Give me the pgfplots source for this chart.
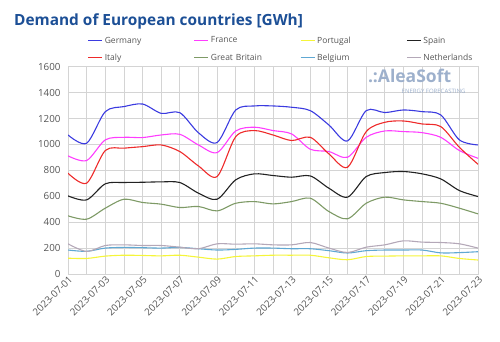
\documentclass[border=0pt]{standalone}
\usepackage{pgfplots}
\pgfplotsset{compat=1.18}
\usepackage{fontspec}
\setmainfont{Open Sans}
\definecolor{titleblue}{HTML}{1C4F96}
\definecolor{cGer}{HTML}{3B3BE0}
\definecolor{cFra}{HTML}{FF3DFF}
\definecolor{cPor}{HTML}{F5F53A}
\definecolor{cSpa}{HTML}{222222}
\definecolor{cIta}{HTML}{EE2A2A}
\definecolor{cGB}{HTML}{7E9A66}
\definecolor{cBel}{HTML}{5FA8D3}
\definecolor{cNet}{HTML}{B4A8B8}
\definecolor{gridc}{HTML}{D4D4D4}
\definecolor{tickc}{HTML}{555555}
\definecolor{wm}{HTML}{9DB0CC}
\begin{document}
\begin{tikzpicture}
\begin{axis}[
  name=ax,
  at={(68pt,68pt)}, anchor=south west,
  scale only axis, width=410pt, height=207.3pt,
  xmin=0, xmax=22, ymin=0, ymax=1600,
  xtick={0,2,...,22},
  minor xtick={1,3,...,21},
  xticklabels={2023-07-01,2023-07-03,2023-07-05,2023-07-07,2023-07-09,2023-07-11,2023-07-13,2023-07-15,2023-07-17,2023-07-19,2023-07-21,2023-07-23},
  ytick={0,200,...,1600},
  xticklabel style={rotate=45, anchor=north east, font=\fontsize{9.8}{11}\selectfont, text=tickc, inner sep=1pt},
  yticklabel style={font=\fontsize{9.8}{11}\selectfont, text=tickc, xshift=-4pt},
  /pgf/number format/assume math mode=true,
  /pgf/number format/1000 sep={},
  grid=both,
  major grid style={gridc, line width=0.7pt},
  minor grid style={gridc, line width=0.7pt},
  axis line style={gridc, line width=0.7pt},
  major tick length=0pt, minor tick length=0pt,
  every axis plot/.append style={line width=1.1pt, smooth, tension=0.5, no marks},
  legend columns=4,
  legend cell align=left,
  legend image code/.code={\draw[#1, line width=1.2pt] (0pt,0pt) -- (14pt,0pt);},
  legend style={at={(rel axis cs:0.04,1.16)}, anchor=north west, draw=none, fill=none,
    font=\fontsize{8.5}{9}\selectfont, text=tickc,
    nodes={text width=88pt, inner sep=1pt},
    /tikz/every odd column/.append style={column sep=1pt},
    row sep=7pt},
]
% Germany
\addplot[cGer] coordinates {(0,1073)(1,1009)(2,1253)(3,1292)(4,1312)(5,1240)(6,1245)(7,1090)(8,1015)(9,1266)(10,1297)(11,1297)(12,1287)(13,1261)(14,1150)(15,1027)(16,1261)(17,1246)(18,1266)(19,1253)(20,1228)(21,1035)(22,996)};
\addlegendentry{Germany}
% France
\addplot[cFra] coordinates {(0,912)(1,876)(2,1035)(3,1055)(4,1053)(5,1073)(6,1078)(7,996)(8,937)(9,1104)(10,1133)(11,1107)(12,1081)(13,963)(14,945)(15,901)(16,1055)(17,1104)(18,1099)(19,1091)(20,1055)(21,953)(22,893)};
\addlegendentry{France}
% Portugal
\addplot[cPor] coordinates {(0,122)(1,120)(2,138)(3,145)(4,143)(5,140)(6,145)(7,130)(8,115)(9,135)(10,140)(11,145)(12,145)(13,145)(14,125)(15,110)(16,135)(17,138)(18,140)(19,140)(20,140)(21,120)(22,108)};
\addlegendentry{Portugal}
% Spain
\addplot[cSpa] coordinates {(0,603)(1,572)(2,696)(3,706)(4,708)(5,711)(6,706)(7,624)(8,577)(9,727)(10,773)(11,760)(12,747)(13,757)(14,662)(15,593)(16,752)(17,783)(18,791)(19,773)(20,734)(21,644)(22,598)};
\addlegendentry{Spain}
% Italy
\addplot[cIta] coordinates {(0,778)(1,701)(2,953)(3,971)(4,983)(5,996)(6,945)(7,834)(8,752)(9,1060)(10,1107)(11,1073)(12,1030)(13,1055)(14,927)(15,824)(16,1099)(17,1171)(18,1181)(19,1158)(20,1138)(21,978)(22,847)};
\addlegendentry{Italy}
% Great Britain
\addplot[cGB] coordinates {(0,449)(1,423)(2,508)(3,577)(4,552)(5,539)(6,513)(7,521)(8,487)(9,546)(10,559)(11,541)(12,559)(13,585)(14,482)(15,426)(16,546)(17,593)(18,572)(19,559)(20,546)(21,508)(22,464)};
\addlegendentry{Great Britain}
% Belgium
\addplot[cBel] coordinates {(0,185)(1,175)(2,200)(3,205)(4,203)(5,200)(6,205)(7,195)(8,185)(9,190)(10,200)(11,200)(12,195)(13,195)(14,180)(15,162)(16,180)(17,185)(18,185)(19,185)(20,163)(21,165)(22,172)};
\addlegendentry{Belgium}
% Netherlands
\addplot[cNet] coordinates {(0,233)(1,174)(2,220)(3,225)(4,220)(5,220)(6,207)(7,195)(8,233)(9,230)(10,233)(11,225)(12,225)(13,243)(14,200)(15,166)(16,207)(17,225)(18,256)(19,246)(20,243)(21,233)(22,200)};
\addlegendentry{Netherlands}
\node[anchor=north east, font=\bfseries\fontsize{17.5}{18}\selectfont, text=wm, inner sep=0pt] at (rel axis cs:0.935,0.99) {.:AleaSoft};
\node[anchor=north east, font=\fontsize{6}{7}\selectfont, text=wm, inner sep=0pt] at (rel axis cs:0.97,0.895) {ENERGY FORECASTING};
\end{axis}
\node[anchor=west, font=\bfseries\fontsize{15.4}{17}\selectfont, text=titleblue, inner sep=0pt] at (14pt,321pt) {Demand of European countries [GWh]};
\pgfresetboundingbox
\path[use as bounding box] (0pt,0pt) rectangle (500pt,342pt);
\end{tikzpicture}
\end{document}
